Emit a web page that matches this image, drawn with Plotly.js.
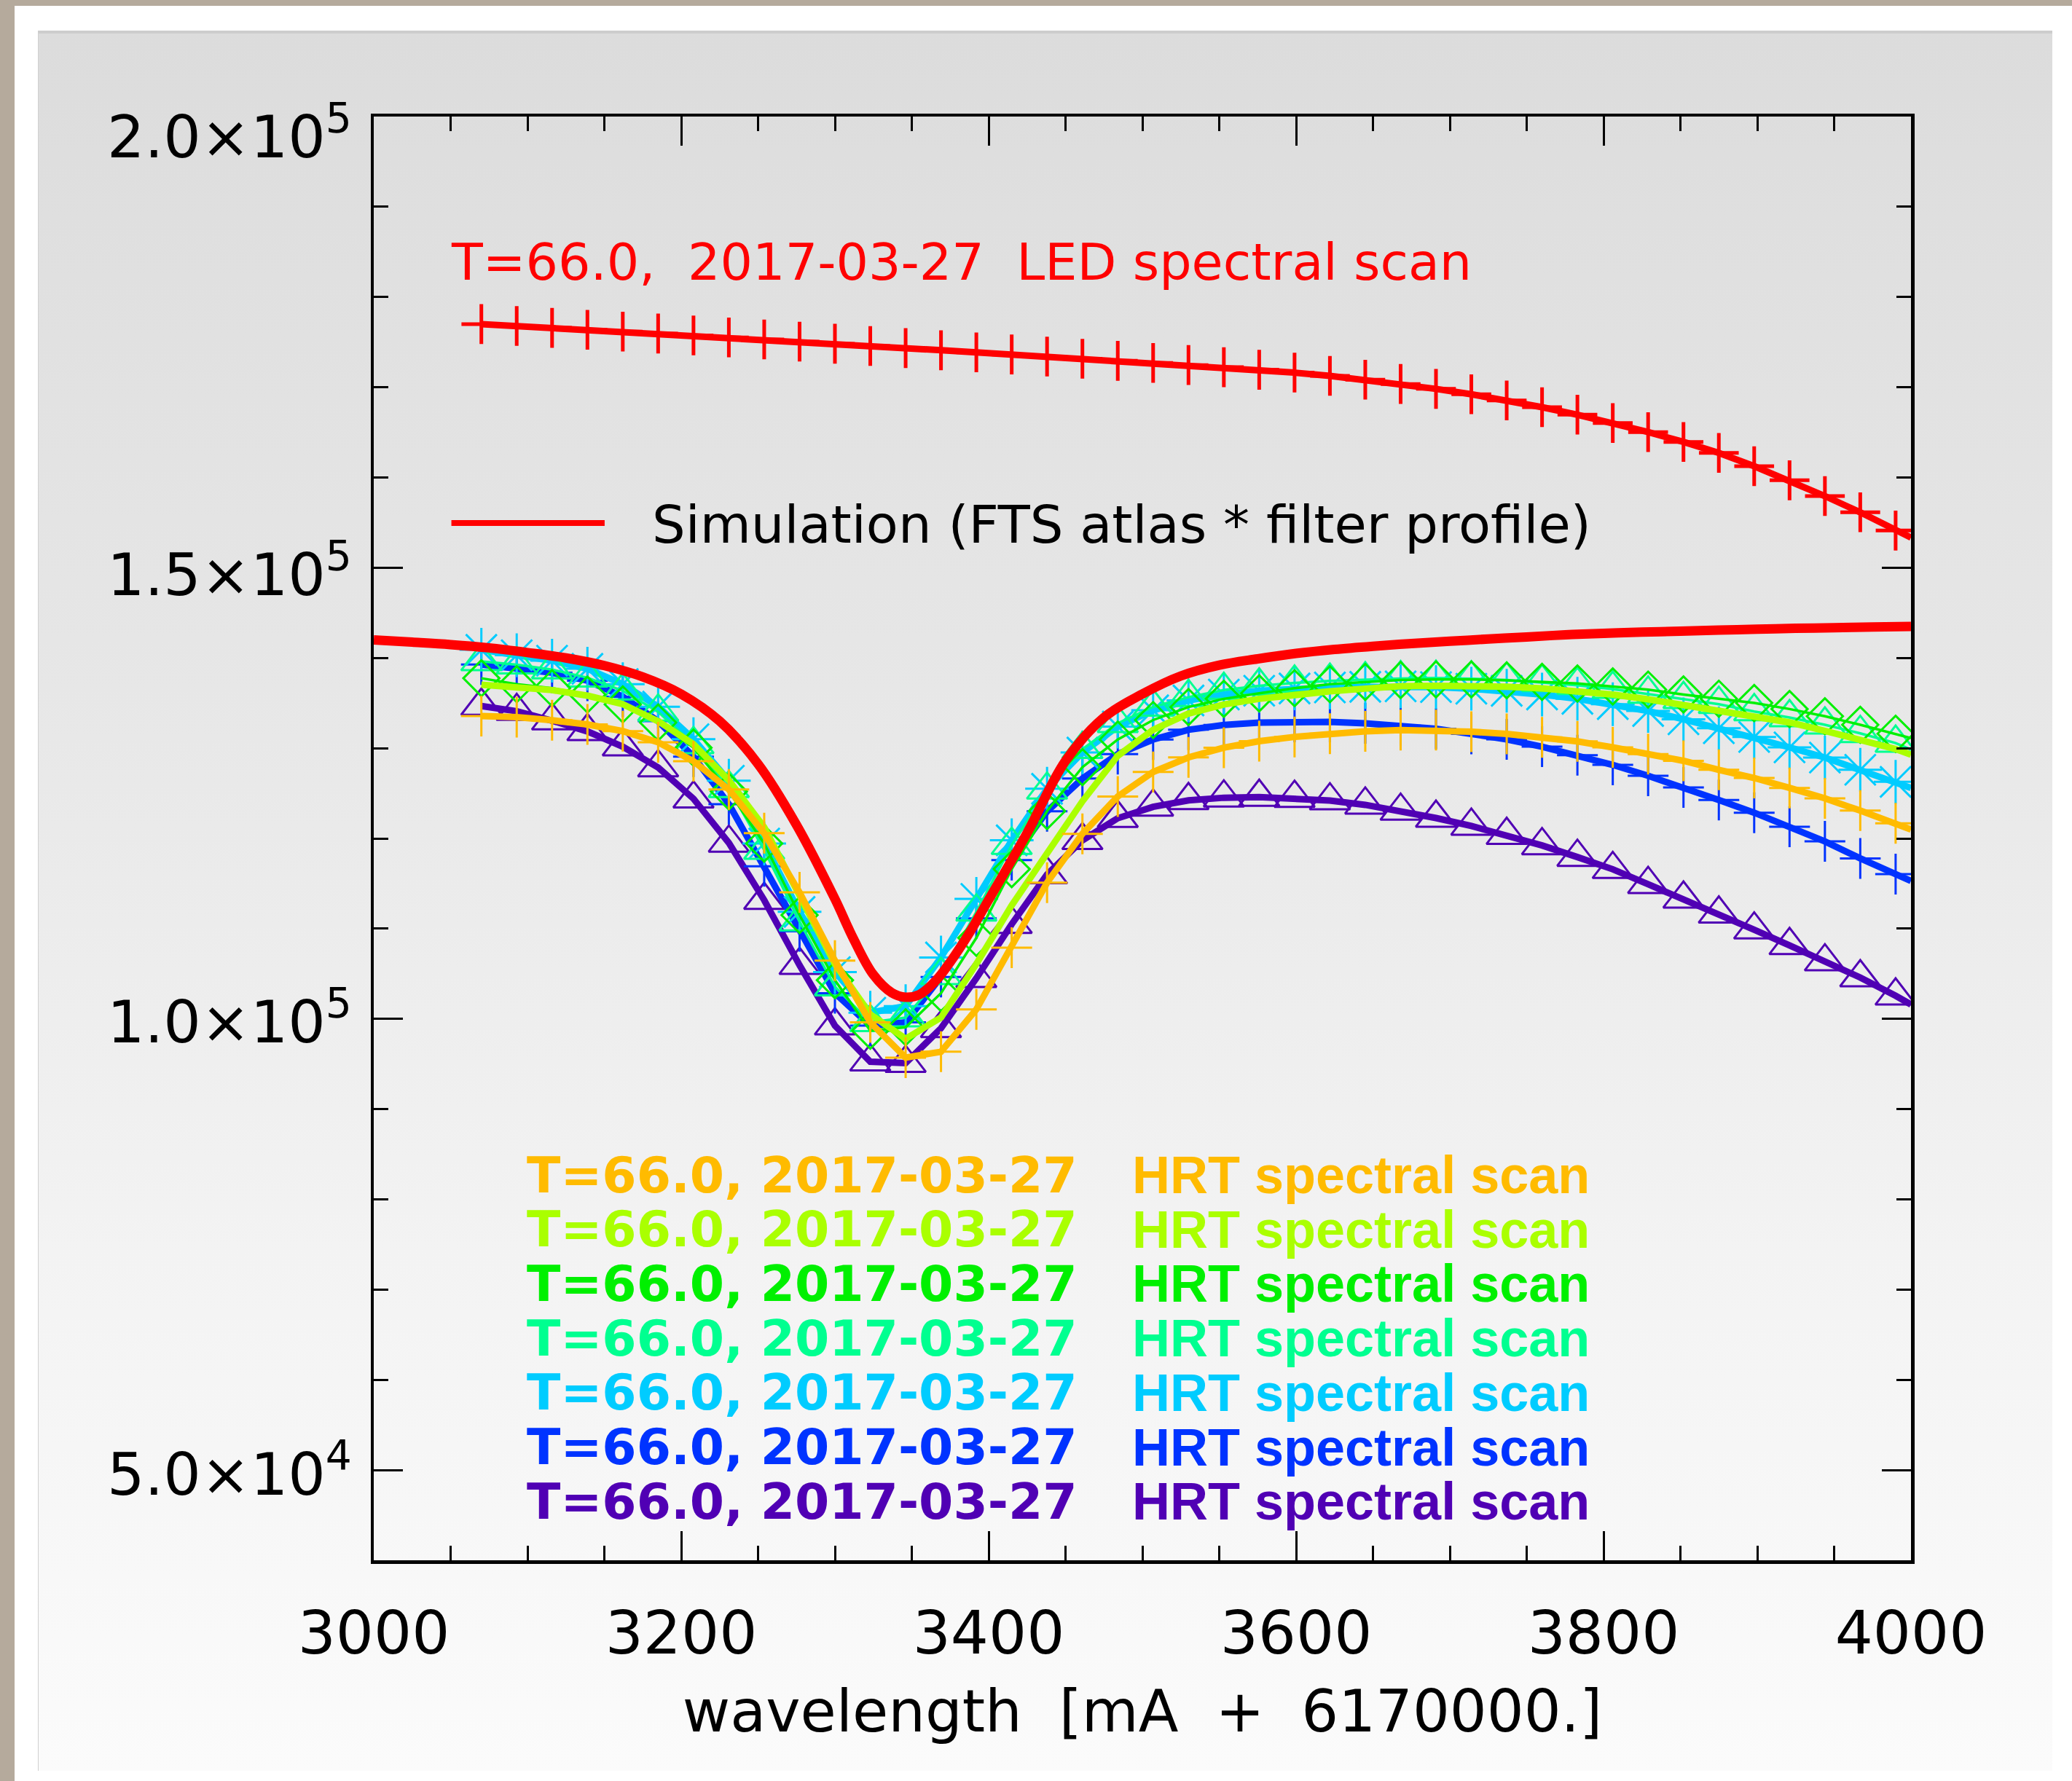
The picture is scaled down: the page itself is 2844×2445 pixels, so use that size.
<!DOCTYPE html>
<html><head><meta charset="utf-8">
<script src="https://cdn.plot.ly/plotly-3.0.1.min.js"></script>
<style>
html,body{margin:0;padding:0;background:#ffffff;width:2844px;height:2445px;overflow:hidden;}
#frameTop{position:absolute;left:0;top:0;width:2844px;height:8px;background:#b5aa9c;}
#frameLeft{position:absolute;left:0;top:0;width:20px;height:2445px;background:#b5aa9c;}
#panel{position:absolute;left:52px;top:42px;width:2765px;height:2389px;box-sizing:border-box;
  background:linear-gradient(to bottom,#dcdcdc 0%,#e6e6e6 35%,#f3f3f3 70%,#fbfbfb 100%);
  border-top:4px solid #cdcdcd;border-left:1px solid #d0d0d0;}
#chart{position:absolute;left:0;top:0;width:2844px;height:2445px;}
</style></head>
<body>
<div id="frameTop"></div><div id="frameLeft"></div><div id="panel"></div>
<div id="chart"></div>
<script>
// ---- data ----
// sampled wavelengths of the scans (markers)
const scanWavelengths = [3070,3093,3116,3139,3162,3185,3208,3231,3254,3277,3300,3323,3346,3369,3392,3415,3438,3461,3484,3507,3530,3553,3576,3599,3622,3645,3668,3691,3714,3737,3760,3783,3806,3829,3852,3875,3898,3921,3944,3967,3990];
// the drawn curves continue to the right edge of the plot
const curveEndWavelength = 4000;

const ledScan = [177000,176790,176580,176370,176160,175950,175740,175520,175300,175060,174820,174570,174340,174100,173870,173630,173400,173160,172930,172690,172460,172220,171940,171620,171260,170840,170360,169820,169220,168540,167790,166960,166040,165030,163940,162730,161250,159690,157940,156140,154120];
const ledScanEnd = 153340;

const hrtOrange = [133560,133440,133090,132630,131890,130650,128560,125420,120580,114020,106450,99610,95710,96360,101050,107900,115100,120510,124650,127360,128980,130060,130780,131250,131610,131860,132000,132000,131830,131580,131200,130750,130090,129350,128600,127600,126700,125600,124440,123080,121680];
const hrtYellowGreen = [137030,136820,136440,135820,134880,132990,130450,126450,121230,113660,106090,100510,97800,100150,106090,112580,118350,124110,129160,132040,133840,134850,135470,135930,136300,136600,136880,136920,136890,136820,136630,136360,135950,135420,134800,134200,133590,132860,131920,130980,129900];
const hrtGreen = [137750,137090,136650,135940,134850,132840,130060,125200,119430,111500,104290,98700,99070,102850,108980,116600,123030,127900,130960,133120,134560,135470,136080,136650,137090,137340,137550,137620,137620,137520,137350,137170,136840,136490,135950,135480,135010,134340,133540,132590,131600];
const hrtSpring = [139610,139250,138710,137810,136370,134030,130420,125560,118710,110780,103570,99610,100150,104830,111860,119250,125380,129880,132760,134570,135650,136440,136910,137230,137450,137600,137720,137770,137700,137550,137300,136980,136550,136010,135420,134880,134070,133400,132590,131650,130570];
const hrtCyan = [140900,140300,139700,138800,137100,134600,131000,126400,119430,111860,105190,100690,101410,106810,113300,119790,125500,129520,132400,134200,135290,135940,136370,136620,136730,136800,136850,136770,136590,136360,135950,135470,134880,134120,133200,132210,131240,130090,128960,127610,126270];
const hrtBlue = [139280,138900,138360,137480,135700,133000,129060,123800,116910,109700,102850,99250,99610,104650,111140,117600,123000,126630,129340,130960,132040,132580,132840,132910,132910,132760,132490,132150,131580,130980,130170,129230,128150,126940,125660,124250,122850,121290,119670,117790,116040];
const hrtPurple = [134670,134100,133050,131860,130170,127860,124400,119500,113160,105950,99250,95250,95100,98960,104510,110500,116000,119790,122240,123500,124220,124510,124580,124470,124190,123720,123040,122260,121380,120360,119220,117930,116580,114920,113300,111640,109880,108150,106350,104580,102560];
// value of each HRT curve where it meets the right edge (orange ... purple)
const hrtEndValues = [120980,129280,131110,129850,125590,115290,101590];

const simWavelengths = [3000,3025,3050,3075,3100,3125,3150,3175,3200,3225,3250,3275,3300,3312,3325,3337,3346,3355,3366,3375,3387,3400,3425,3450,3475,3500,3525,3550,3575,3600,3625,3650,3675,3700,3725,3750,3775,3800,3825,3850,3875,3900,3925,3950,3975,4000];
const simValues = [142000,141750,141480,141120,140600,140000,139150,137900,136000,133000,128250,121500,113300,108900,104900,102900,102400,102700,104300,106300,109400,113200,120600,128600,133400,136000,138000,139200,139900,140500,140950,141300,141600,141850,142100,142330,142560,142730,142860,142970,143080,143190,143280,143360,143430,143490];

const xTickValues = [3000,3200,3400,3600,3800,4000];
const yTickValues = [50000,100000,150000,200000];
const yTickLabels = ['5.0\u00d710<sup>4</sup>','1.0\u00d710<sup>5</sup>','1.5\u00d710<sup>5</sup>','2.0\u00d710<sup>5</sup>'];
// vertical pixel nudge of each y label relative to its tick (style, not data)
const yTickLabelShift = [0, 2, -4, -22];

const hrtLabelDate = 'T=66.0, 2017-03-27';
const hrtLabelText = 'HRT spectral scan';
const ledLabel = 'T=66.0,\u00a0 2017-03-27\u00a0 LED spectral scan';
const simLabel = 'Simulation (FTS atlas * filter profile)';
const xTitle = 'wavelength\u00a0 [mA\u00a0 +\u00a0 6170000.]';

// legend order (top to bottom) and style per HRT series
const hrtColors  = ['#ffbb00','#aaff00','#00f000','#00ff90','#00ccff','#0033ff','#5000b4'];
const hrtValues  = [hrtOrange,hrtYellowGreen,hrtGreen,hrtSpring,hrtCyan,hrtBlue,hrtPurple];
const hrtSymbols = ['cross-thin-open',null,'diamond-open','triangle-up-open','asterisk-open','cross-thin-open','triangle-up-open'];
const hrtMarkerSizes = [40,0,38,48,50,40,48];
const hrtLineWidths = [9,9,3.5,3.5,9,9,9];

// ---- traces ----
const traces = [];
function addSeries(vals, endVal, color, lineWidth, symbol, size, markerLineWidth) {
  traces.push({
    x: scanWavelengths.concat([curveEndWavelength]), y: vals.concat([endVal]),
    type:'scatter', mode:'lines', line:{color:color, width:lineWidth},
    hoverinfo:'skip', showlegend:false
  });
  if (symbol) traces.push({
    x: scanWavelengths, y: vals, type:'scatter', mode:'markers',
    marker:{symbol:symbol, size:size, color:color, line:{color:color, width:markerLineWidth}},
    hoverinfo:'skip', showlegend:false
  });
}
addSeries(ledScan, ledScanEnd, '#ff0000', 9, 'cross-thin-open', 39, 5);
// draw in reverse legend order so orange / yellow-green sit on top
for (let k = hrtValues.length-1; k >= 0; k--) {
  addSeries(hrtValues[k], hrtEndValues[k], hrtColors[k], hrtLineWidths[k], hrtSymbols[k], hrtMarkerSizes[k], 3);
}
traces.push({
  x: simWavelengths, y: simValues, type:'scatter', mode:'lines',
  line:{color:'#ff0000', width:13, shape:'spline', smoothing:1},
  hoverinfo:'skip', showlegend:false
});

// ---- annotations ----
const annotations = [];
annotations.push({xref:'paper', yref:'paper', x:0.0493, y:0.899, xanchor:'left', yanchor:'middle', showarrow:false,
  text: ledLabel, font:{family:'DejaVu Sans', size:70, color:'#ff0000'}});
annotations.push({xref:'paper', yref:'paper', x:0.1801, y:0.7175, xanchor:'left', yanchor:'middle', showarrow:false,
  text: simLabel, font:{family:'DejaVu Sans', size:72, color:'#000000'}});
const hrtTop = 0.2669, hrtStep = 0.0377;
for (let k = 0; k < hrtColors.length; k++) {
  const yy = hrtTop - k*hrtStep;
  annotations.push({xref:'paper', yref:'paper', x:0.0988, y:yy, xanchor:'left', yanchor:'middle', showarrow:false,
    text: hrtLabelDate, font:{family:'DejaVu Sans', size:68, weight:'bold', color:hrtColors[k]}});
  annotations.push({xref:'paper', yref:'paper', x:0.4924, y:yy, xanchor:'left', yanchor:'middle', showarrow:false,
    text: hrtLabelText, font:{family:'Liberation Sans', size:72, weight:'bold', color:hrtColors[k]}});
}
// y tick labels (placed beside the ticks, nudged like the original)
for (let k = 0; k < yTickValues.length; k++) {
  annotations.push({xref:'paper', yref:'y', x:0, y:yTickValues[k], xanchor:'right', yanchor:'middle',
    xshift:-28, yshift:yTickLabelShift[k], showarrow:false,
    text: yTickLabels[k], font:{family:'DejaVu Sans', size:81, color:'#000'}});
}

const axisCommon = {
  showline:true, linecolor:'#000', linewidth:4.5, mirror:'ticks',
  ticks:'inside', ticklen:40, tickwidth:3, tickcolor:'#000',
  showgrid:false, zeroline:false, fixedrange:true,
  tickfont:{family:'DejaVu Sans', size:81, color:'#000'}
};

const layout = {
  width:2844, height:2445,
  margin:{l:513, r:221, t:160, b:303, pad:0},
  paper_bgcolor:'rgba(0,0,0,0)', plot_bgcolor:'rgba(0,0,0,0)',
  showlegend:false,
  xaxis: Object.assign({}, axisCommon, {
    range:[3000,4000], tickmode:'array', tickvals:xTickValues,
    ticklabelstandoff:25,
    tickfont:{family:'DejaVu Sans', size:82, color:'#000'},
    minor:{tickmode:'linear', tick0:3000, dtick:50, ticks:'inside', ticklen:20, tickwidth:3, tickcolor:'#000', showgrid:false},
    title:{text:xTitle, font:{family:'DejaVu Sans', size:80, color:'#000'}, standoff:34}
  }),
  yaxis: Object.assign({}, axisCommon, {
    range:[40000,200000], tickmode:'array', tickvals:yTickValues, showticklabels:false,
    minor:{tickmode:'linear', tick0:0, dtick:10000, ticks:'inside', ticklen:20, tickwidth:3, tickcolor:'#000', showgrid:false}
  }),
  annotations: annotations,
  shapes:[{type:'line', xref:'paper', yref:'paper', x0:0.0505, x1:0.1502, y0:0.7185, y1:0.7185, line:{color:'#ff0000', width:8}}]
};

Plotly.newPlot('chart', traces, layout, {staticPlot:true, displayModeBar:false});
</script>
</body></html>
